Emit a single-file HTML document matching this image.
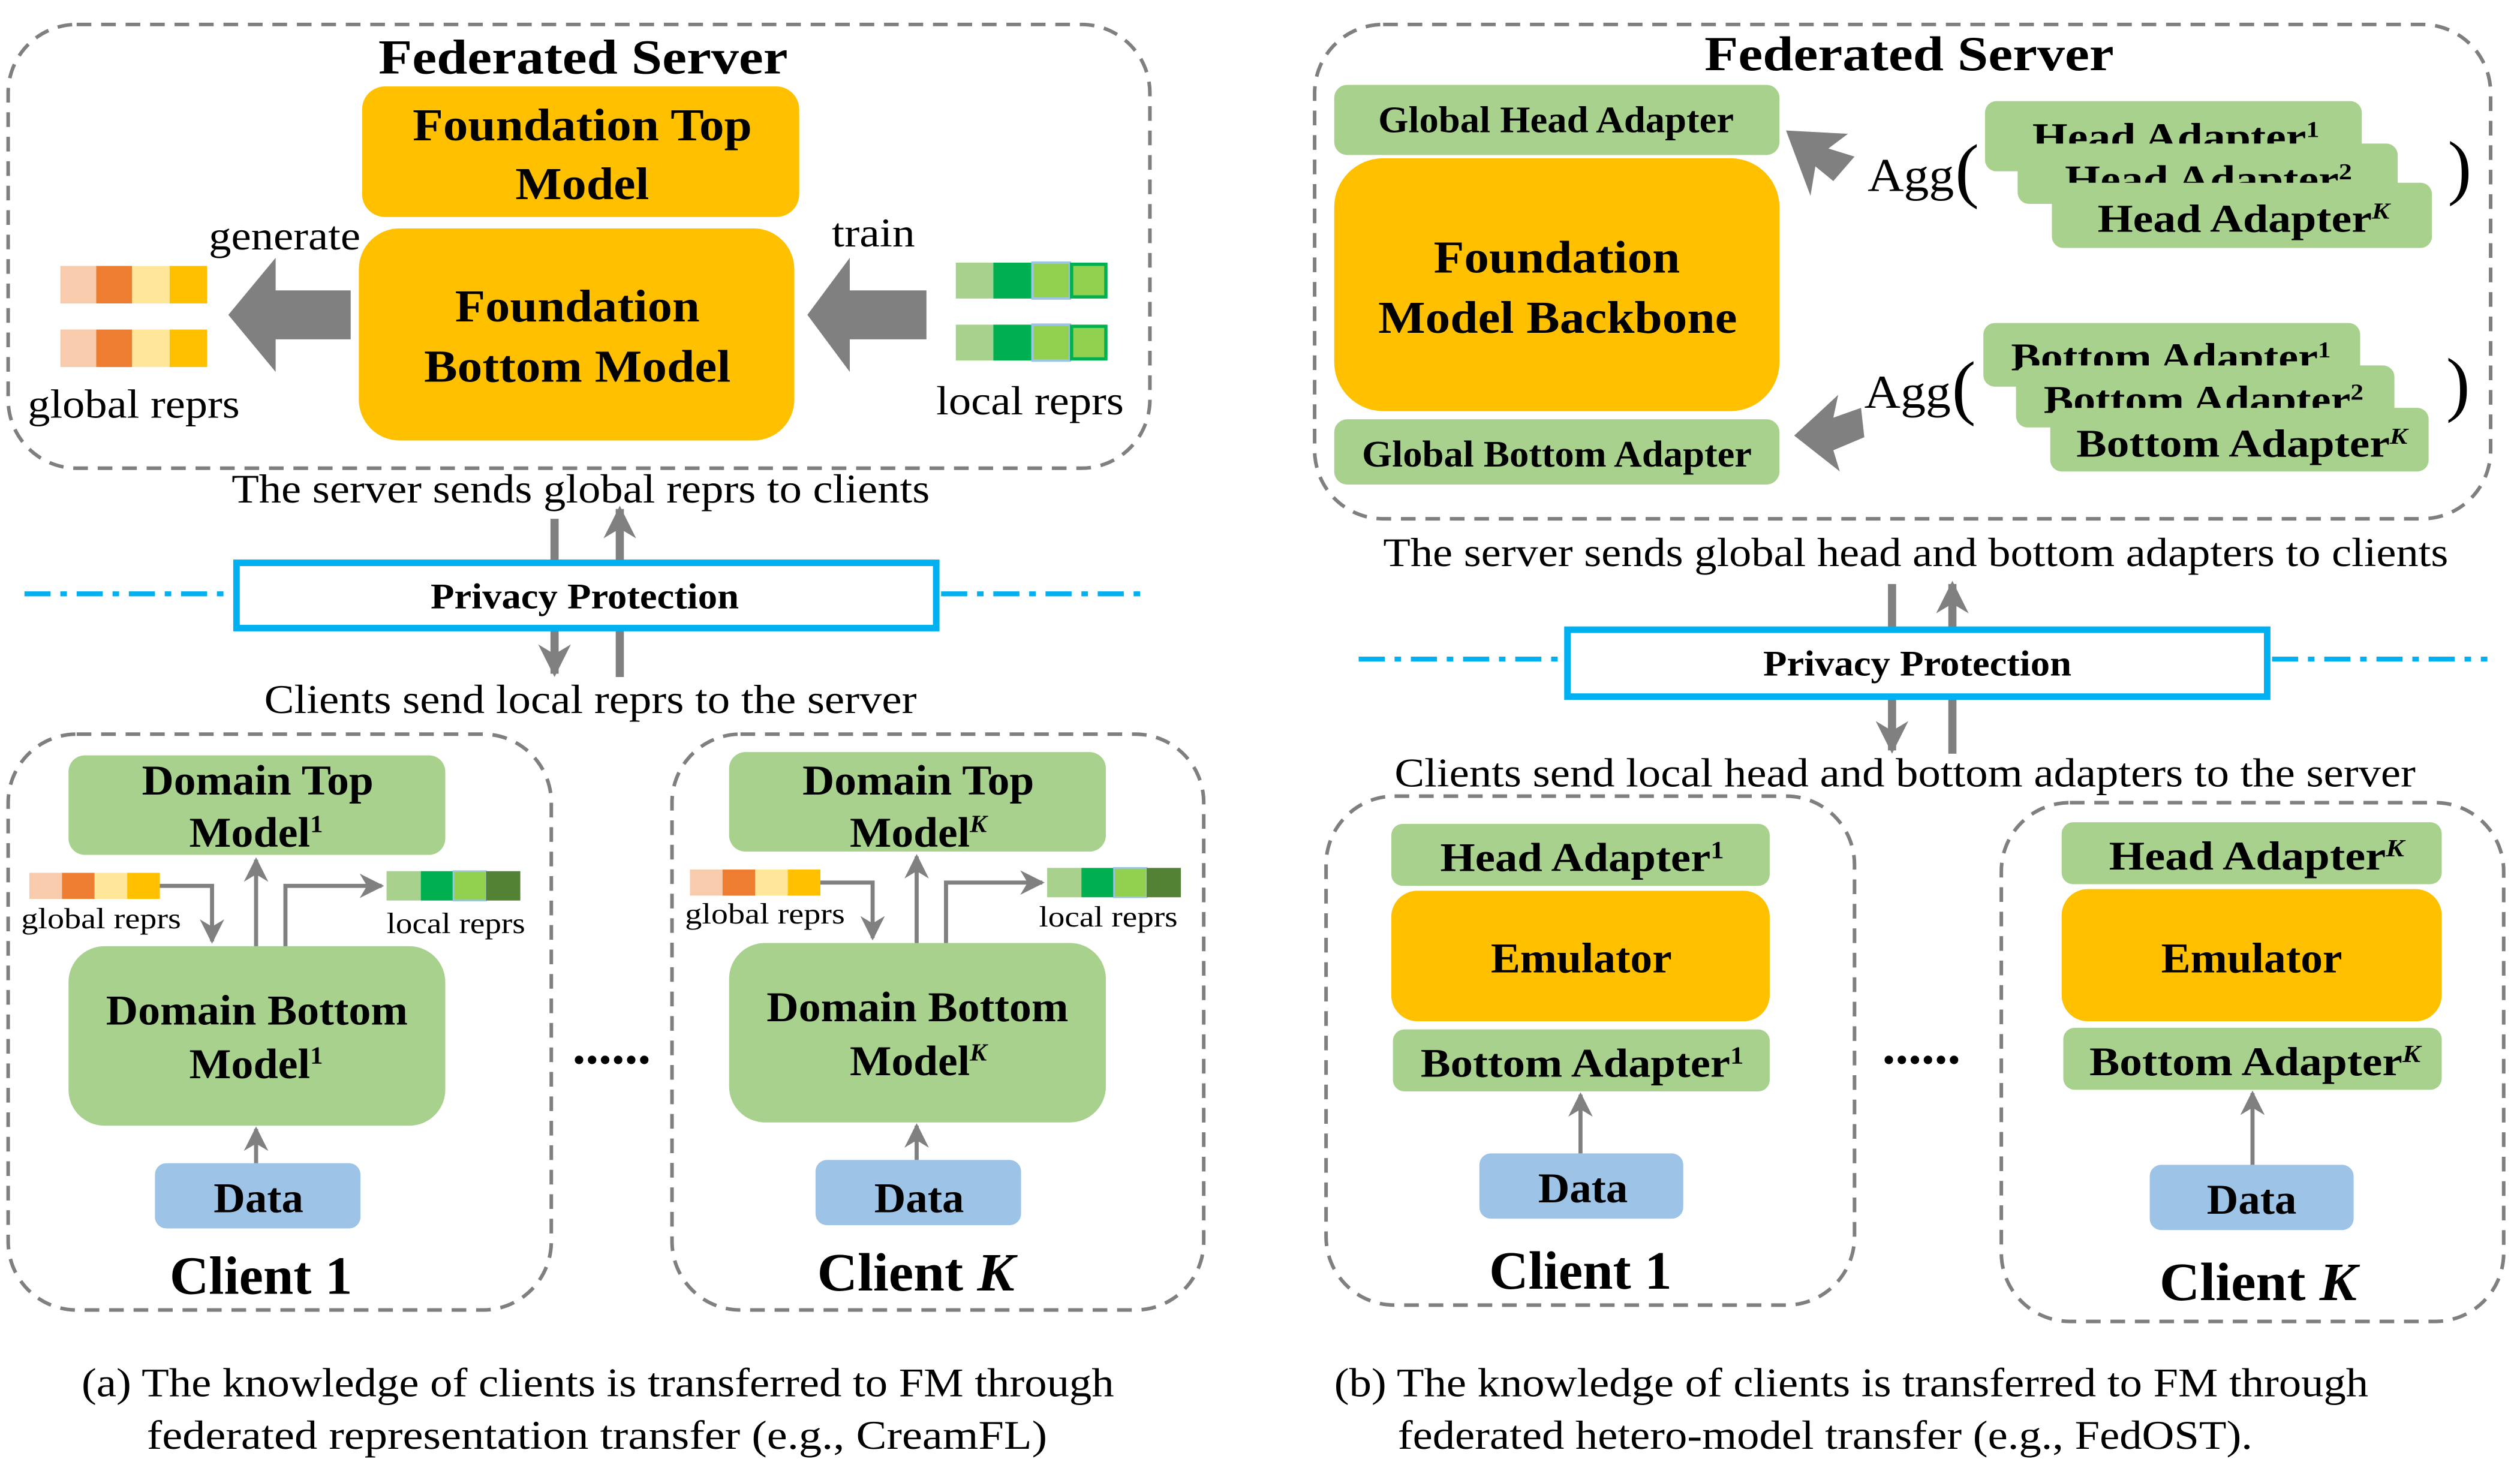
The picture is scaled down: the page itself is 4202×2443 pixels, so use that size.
<!DOCTYPE html>
<html><head><meta charset="utf-8"><style>
html,body{margin:0;padding:0;background:#fff;}
svg{display:block;}
text{font-family:"Liberation Serif",serif;fill:#000;}
.b{font-weight:bold;}
</style></head><body>
<svg width="4202" height="2443" viewBox="0 0 1545 898" preserveAspectRatio="none" xmlns="http://www.w3.org/2000/svg">
<defs>
<marker id="ah" viewBox="0 0 10 10" refX="9" refY="5" markerWidth="4" markerHeight="4" orient="auto-start-reverse"><path d="M0,0 L10,5 L0,10 L3,5 z" fill="#808080"/></marker>
<marker id="ahs" viewBox="0 0 10 10" refX="9" refY="5" markerWidth="6" markerHeight="6" orient="auto-start-reverse"><path d="M0,0 L10,5 L0,10 L3,5 z" fill="#808080"/></marker>
</defs>
<g fill="none" stroke="#7f7f7f" stroke-width="2.2" stroke-dasharray="9,6">
<rect x="5" y="15" width="700" height="272" rx="42"/>
<rect x="5" y="450" width="333" height="353" rx="42"/>
<rect x="412" y="450" width="326" height="353" rx="42"/>
<rect x="806" y="15" width="721" height="303" rx="42"/>
<rect x="813" y="488" width="324" height="312" rx="42"/>
<rect x="1227" y="492" width="308" height="318" rx="42"/>
</g>
<!-- LEFT SERVER -->
<text class="b" x="232" y="45" font-size="30" textLength="251" lengthAdjust="spacingAndGlyphs">Federated Server</text>
<rect x="222" y="53" width="268" height="80" rx="14" fill="#FFC000"/>
<text class="b" x="253" y="86" font-size="28" textLength="208" lengthAdjust="spacingAndGlyphs">Foundation Top</text>
<text class="b" x="316" y="122" font-size="28" textLength="82" lengthAdjust="spacingAndGlyphs">Model</text>
<rect x="220" y="140" width="267" height="130" rx="25" fill="#FFC000"/>
<text class="b" x="279" y="197" font-size="28" textLength="150" lengthAdjust="spacingAndGlyphs">Foundation</text>
<text class="b" x="260" y="234" font-size="28" textLength="188" lengthAdjust="spacingAndGlyphs">Bottom Model</text>
<text x="128" y="153" font-size="25" textLength="93" lengthAdjust="spacingAndGlyphs">generate</text>
<text x="510" y="151" font-size="25" textLength="51" lengthAdjust="spacingAndGlyphs">train</text>
<text x="17" y="256" font-size="25" textLength="130" lengthAdjust="spacingAndGlyphs">global reprs</text>
<text x="574" y="254" font-size="25" textLength="115" lengthAdjust="spacingAndGlyphs">local reprs</text>
<g>
<rect x="37" y="163" width="22" height="23" fill="#F8CBAD"/><rect x="59" y="163" width="22" height="23" fill="#ED7D31"/><rect x="81" y="163" width="23" height="23" fill="#FFE699"/><rect x="104" y="163" width="23" height="23" fill="#FFC000"/>
<rect x="37" y="202" width="22" height="23" fill="#F8CBAD"/><rect x="59" y="202" width="22" height="23" fill="#ED7D31"/><rect x="81" y="202" width="23" height="23" fill="#FFE699"/><rect x="104" y="202" width="23" height="23" fill="#FFC000"/>
<rect x="586" y="161" width="23" height="22" fill="#A9D18E"/><rect x="609" y="161" width="24" height="22" fill="#00B050"/><rect x="633" y="161" width="23" height="22" fill="#92D050" stroke="#9DC3E6" stroke-width="1.5"/><rect x="657" y="162" width="21" height="20" fill="#92D050" stroke="#00B050" stroke-width="2"/>
<rect x="586" y="199" width="23" height="22" fill="#A9D18E"/><rect x="609" y="199" width="24" height="22" fill="#00B050"/><rect x="633" y="199" width="23" height="22" fill="#92D050" stroke="#9DC3E6" stroke-width="1.5"/><rect x="657" y="200" width="21" height="20" fill="#92D050" stroke="#00B050" stroke-width="2"/>
</g>
<polygon points="215,178 169,178 169,158 140,193 169,228 169,208 215,208" fill="#808080"/>
<polygon points="568,178 521,178 521,158 495,193 521,228 521,208 568,208" fill="#808080"/>
<text x="142" y="308" font-size="25" textLength="428" lengthAdjust="spacingAndGlyphs">The server sends global reprs to clients</text>
<line x1="340" y1="318" x2="340" y2="413" stroke="#808080" stroke-width="5" marker-end="url(#ah)"/>
<line x1="380" y1="415" x2="380" y2="312" stroke="#808080" stroke-width="5" marker-end="url(#ah)"/>
<g stroke="#00B0F0" stroke-width="3" stroke-dasharray="16,6,4,6"><line x1="15" y1="364" x2="143" y2="364"/><line x1="577" y1="364" x2="705" y2="364"/></g>
<rect x="145" y="345" width="429" height="40" fill="#fff" stroke="#00B0F0" stroke-width="4"/>
<text class="b" x="264" y="373" font-size="22" textLength="189" lengthAdjust="spacingAndGlyphs">Privacy Protection</text>
<text x="162" y="437" font-size="25" textLength="400" lengthAdjust="spacingAndGlyphs">Clients send local reprs to the server</text>
<!-- LEFT CLIENTS -->
<g id="lc">
<rect x="42" y="463" width="231" height="61" rx="10" fill="#A9D18E"/>
<rect x="42" y="580" width="231" height="110" rx="22" fill="#A9D18E"/>
<rect x="95" y="713" width="126" height="40" rx="7" fill="#9DC3E6"/>
<rect x="18" y="535" width="20" height="16" fill="#F8CBAD"/><rect x="38" y="535" width="20" height="16" fill="#ED7D31"/><rect x="58" y="535" width="20" height="16" fill="#FFE699"/><rect x="78" y="535" width="20" height="16" fill="#FFC000"/>
<rect x="237" y="534" width="21" height="18" fill="#A9D18E"/><rect x="258" y="534" width="20" height="18" fill="#00B050"/><rect x="278" y="534" width="20" height="18" fill="#92D050" stroke="#9DC3E6" stroke-width="1"/><rect x="298" y="534" width="21" height="18" fill="#548235"/>
<g stroke="#808080" stroke-width="2.5" fill="none">
<polyline points="98,543 130,543 130,577" marker-end="url(#ahs)"/>
<line x1="157" y1="580" x2="157" y2="527" marker-end="url(#ahs)"/>
<polyline points="175,580 175,543 234,543" marker-end="url(#ahs)"/>
<line x1="157" y1="713" x2="157" y2="692" marker-end="url(#ahs)"/>
</g>
</g>
<text class="b" x="87" y="487" font-size="26" textLength="142" lengthAdjust="spacingAndGlyphs">Domain Top</text>
<text class="b" x="116" y="519" font-size="26" textLength="82" lengthAdjust="spacingAndGlyphs">Model<tspan font-size="15" dy="-9">1</tspan></text>
<text x="13" y="569" font-size="18" textLength="98" lengthAdjust="spacingAndGlyphs">global reprs</text>
<text x="237" y="572" font-size="18" textLength="85" lengthAdjust="spacingAndGlyphs">local reprs</text>
<text class="b" x="65" y="628" font-size="26" textLength="185" lengthAdjust="spacingAndGlyphs">Domain Bottom</text>
<text class="b" x="116" y="661" font-size="26" textLength="82" lengthAdjust="spacingAndGlyphs">Model<tspan font-size="15" dy="-9">1</tspan></text>
<text class="b" x="131" y="743" font-size="26" textLength="55" lengthAdjust="spacingAndGlyphs">Data</text>
<text class="b" x="104" y="793" font-size="33" textLength="112" lengthAdjust="spacingAndGlyphs">Client 1</text>
<use href="#lc" transform="translate(405,-2)"/>
<text class="b" x="492" y="487" font-size="26" textLength="142" lengthAdjust="spacingAndGlyphs">Domain Top</text>
<text class="b" x="521" y="519" font-size="26" textLength="84" lengthAdjust="spacingAndGlyphs">Model<tspan font-size="15" font-style="italic" dy="-9">K</tspan></text>
<text x="420" y="566" font-size="18" textLength="98" lengthAdjust="spacingAndGlyphs">global reprs</text>
<text x="637" y="568" font-size="18" textLength="85" lengthAdjust="spacingAndGlyphs">local reprs</text>
<text class="b" x="470" y="626" font-size="26" textLength="185" lengthAdjust="spacingAndGlyphs">Domain Bottom</text>
<text class="b" x="521" y="659" font-size="26" textLength="84" lengthAdjust="spacingAndGlyphs">Model<tspan font-size="15" font-style="italic" dy="-9">K</tspan></text>
<text class="b" x="536" y="743" font-size="26" textLength="55" lengthAdjust="spacingAndGlyphs">Data</text>
<text class="b" x="501" y="791" font-size="33" textLength="121" lengthAdjust="spacingAndGlyphs">Client <tspan font-style="italic">K</tspan></text>
<text class="b" x="375" y="652" font-size="32" text-anchor="middle">......</text>
<!-- RIGHT SERVER -->
<text class="b" x="1045" y="43" font-size="30" textLength="251" lengthAdjust="spacingAndGlyphs">Federated Server</text>
<rect x="818" y="52" width="273" height="43" rx="8" fill="#A9D18E"/>
<text class="b" x="845" y="81" font-size="23" textLength="218" lengthAdjust="spacingAndGlyphs">Global Head Adapter</text>
<rect x="818" y="97" width="273" height="155" rx="30" fill="#FFC000"/>
<text class="b" x="879" y="167" font-size="28" textLength="151" lengthAdjust="spacingAndGlyphs">Foundation</text>
<text class="b" x="845" y="204" font-size="28" textLength="220" lengthAdjust="spacingAndGlyphs">Model Backbone</text>
<rect x="818" y="257" width="273" height="40" rx="8" fill="#A9D18E"/>
<text class="b" x="835" y="286" font-size="23" textLength="239" lengthAdjust="spacingAndGlyphs">Global Bottom Adapter</text>
<rect x="1217" y="62" width="231" height="43" rx="7" fill="#A9D18E"/>
<text class="b" x="1246" y="92" font-size="24" textLength="176" lengthAdjust="spacingAndGlyphs">Head Adapter<tspan font-size="14" dy="-8">1</tspan></text>
<rect x="1237" y="88" width="233" height="37" rx="7" fill="#A9D18E"/>
<text class="b" x="1266" y="118" font-size="24" textLength="176" lengthAdjust="spacingAndGlyphs">Head Adapter<tspan font-size="14" dy="-8">2</tspan></text>
<rect x="1258" y="112" width="233" height="40" rx="7" fill="#A9D18E"/>
<text class="b" x="1286" y="142" font-size="24" textLength="179" lengthAdjust="spacingAndGlyphs">Head Adapter<tspan font-size="14" font-style="italic" dy="-8">K</tspan></text>
<text x="1145" y="117" font-size="29" textLength="53" lengthAdjust="spacingAndGlyphs">Agg</text>
<text x="1206" y="119" font-size="44" text-anchor="middle">(</text>
<text x="1508" y="117" font-size="44" text-anchor="middle">)</text>
<rect x="1216" y="198" width="231" height="39" rx="7" fill="#A9D18E"/>
<text class="b" x="1233" y="227" font-size="24" textLength="196" lengthAdjust="spacingAndGlyphs">Bottom Adapter<tspan font-size="14" dy="-8">1</tspan></text>
<rect x="1236" y="224" width="232" height="38" rx="7" fill="#A9D18E"/>
<text class="b" x="1253" y="253" font-size="24" textLength="196" lengthAdjust="spacingAndGlyphs">Bottom Adapter<tspan font-size="14" dy="-8">2</tspan></text>
<rect x="1257" y="250" width="232" height="39" rx="7" fill="#A9D18E"/>
<text class="b" x="1273" y="280" font-size="24" textLength="203" lengthAdjust="spacingAndGlyphs">Bottom Adapter<tspan font-size="14" font-style="italic" dy="-8">K</tspan></text>
<text x="1143" y="250" font-size="29" textLength="53" lengthAdjust="spacingAndGlyphs">Agg</text>
<text x="1204" y="252" font-size="44" text-anchor="middle">(</text>
<text x="1507" y="250" font-size="44" text-anchor="middle">)</text>
<polygon points="1137,96 1124,111 1113,102 1110,120 1095,80 1133,82 1121,91" fill="#808080"/>
<polygon points="1141,250 1124,256 1127,242 1100,267 1128,289 1124,276 1143,268" fill="#808080"/>
<text x="848" y="347" font-size="25" textLength="653" lengthAdjust="spacingAndGlyphs">The server sends global head and bottom adapters to clients</text>
<line x1="1160" y1="358" x2="1160" y2="460" stroke="#808080" stroke-width="5" marker-end="url(#ah)"/>
<line x1="1197" y1="462" x2="1197" y2="358" stroke="#808080" stroke-width="5" marker-end="url(#ah)"/>
<g stroke="#00B0F0" stroke-width="3" stroke-dasharray="16,6,4,6"><line x1="833" y1="404" x2="960" y2="404"/><line x1="1393" y1="404" x2="1525" y2="404"/></g>
<rect x="961" y="386" width="429" height="41" fill="#fff" stroke="#00B0F0" stroke-width="4"/>
<text class="b" x="1081" y="414" font-size="22" textLength="189" lengthAdjust="spacingAndGlyphs">Privacy Protection</text>
<text x="855" y="482" font-size="25" textLength="626" lengthAdjust="spacingAndGlyphs">Clients send local head and bottom adapters to the server</text>
<!-- RIGHT CLIENTS -->
<rect x="853" y="505" width="232" height="38" rx="7" fill="#A9D18E"/>
<text class="b" x="883" y="534" font-size="25" textLength="174" lengthAdjust="spacingAndGlyphs">Head Adapter<tspan font-size="15" dy="-8">1</tspan></text>
<rect x="853" y="546" width="232" height="80" rx="16" fill="#FFC000"/>
<text class="b" x="914" y="596" font-size="26" textLength="111" lengthAdjust="spacingAndGlyphs">Emulator</text>
<rect x="854" y="631" width="231" height="38" rx="7" fill="#A9D18E"/>
<text class="b" x="871" y="660" font-size="25" textLength="198" lengthAdjust="spacingAndGlyphs">Bottom Adapter<tspan font-size="15" dy="-8">1</tspan></text>
<rect x="907" y="707" width="125" height="40" rx="7" fill="#9DC3E6"/>
<text class="b" x="943" y="737" font-size="26" textLength="55" lengthAdjust="spacingAndGlyphs">Data</text>
<line x1="969" y1="707" x2="969" y2="671" stroke="#808080" stroke-width="2.5" marker-end="url(#ahs)"/>
<text class="b" x="913" y="790" font-size="33" textLength="112" lengthAdjust="spacingAndGlyphs">Client 1</text>
<rect x="1264" y="504" width="233" height="38" rx="7" fill="#A9D18E"/>
<text class="b" x="1293" y="533" font-size="25" textLength="181" lengthAdjust="spacingAndGlyphs">Head Adapter<tspan font-size="15" font-style="italic" dy="-8">K</tspan></text>
<rect x="1264" y="545" width="233" height="81" rx="16" fill="#FFC000"/>
<text class="b" x="1325" y="596" font-size="26" textLength="111" lengthAdjust="spacingAndGlyphs">Emulator</text>
<rect x="1265" y="630" width="232" height="38" rx="7" fill="#A9D18E"/>
<text class="b" x="1281" y="659" font-size="25" textLength="203" lengthAdjust="spacingAndGlyphs">Bottom Adapter<tspan font-size="15" font-style="italic" dy="-8">K</tspan></text>
<rect x="1318" y="714" width="125" height="40" rx="7" fill="#9DC3E6"/>
<text class="b" x="1353" y="744" font-size="26" textLength="55" lengthAdjust="spacingAndGlyphs">Data</text>
<line x1="1381" y1="714" x2="1381" y2="670" stroke="#808080" stroke-width="2.5" marker-end="url(#ahs)"/>
<text class="b" x="1324" y="797" font-size="33" textLength="121" lengthAdjust="spacingAndGlyphs">Client <tspan font-style="italic">K</tspan></text>
<text class="b" x="1178" y="652" font-size="32" text-anchor="middle">......</text>
<!-- CAPTIONS -->
<text x="50" y="856" font-size="25" textLength="633" lengthAdjust="spacingAndGlyphs">(a) The knowledge of clients is transferred to FM through</text>
<text x="90" y="888" font-size="25" textLength="552" lengthAdjust="spacingAndGlyphs">federated representation transfer (e.g., CreamFL)</text>
<text x="818" y="856" font-size="25" textLength="634" lengthAdjust="spacingAndGlyphs">(b) The knowledge of clients is transferred to FM through</text>
<text x="857" y="888" font-size="25" textLength="524" lengthAdjust="spacingAndGlyphs">federated hetero-model transfer (e.g., FedOST).</text>
</svg>
</body></html>
